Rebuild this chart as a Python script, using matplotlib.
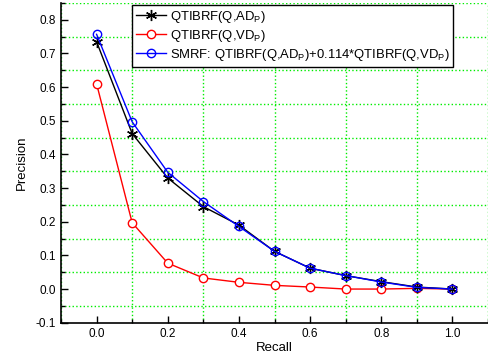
import matplotlib
matplotlib.use("Agg")
import matplotlib.pyplot as plt
from matplotlib.ticker import MultipleLocator

plt.rcParams['font.family'] = ['Liberation Sans', 'DejaVu Sans']
plt.rcParams['mathtext.fontset'] = 'custom'
plt.rcParams['mathtext.rm'] = 'Liberation Sans'
plt.rcParams['mathtext.it'] = 'Liberation Sans'

# recall levels
recall = [0.0, 0.1, 0.2, 0.3, 0.4, 0.5, 0.6, 0.7, 0.8, 0.9, 1.0]
# precision values per method
prec_ad = [0.735, 0.462, 0.330, 0.245, 0.190, 0.112, 0.062, 0.040, 0.022, 0.006, 0.0]
prec_vd = [0.610, 0.197, 0.077, 0.033, 0.020, 0.011, 0.006, 0.0, 0.0, 0.002, 0.0]
prec_smrf = [0.757, 0.497, 0.347, 0.260, 0.186, 0.112, 0.062, 0.040, 0.021, 0.005, 0.0]

labels = [r'QTIBRF(Q,AD$_\mathrm{P}$)',
          r'QTIBRF(Q,VD$_\mathrm{P}$)',
          r'SMRF: QTIBRF(Q,AD$_\mathrm{P}$)+0.114*QTIBRF(Q,VD$_\mathrm{P}$)']

fig = plt.figure(figsize=(4.88, 3.6), dpi=100)
ax = fig.add_axes([0.125, 0.1036, 0.875, 0.888])

l2, = ax.plot(recall, prec_vd, color='red', lw=1, marker='o', ms=6,
              mfc='white', mec='red', mew=1, zorder=3)
l1, = ax.plot(recall, prec_ad, color='black', lw=1, marker=(6, 2, 0), ms=8,
              mew=1, zorder=4)
l3, = ax.plot(recall, prec_smrf, color='blue', lw=1, marker='o', ms=6,
              mfc='none', mec='blue', mew=1, zorder=5)

ax.set_xlim(-0.1, 1.1)
ax.set_ylim(-0.1, 0.85)
ax.xaxis.set_major_locator(MultipleLocator(0.2))
ax.xaxis.set_minor_locator(MultipleLocator(0.1))
ax.yaxis.set_major_locator(MultipleLocator(0.1))
ax.yaxis.set_minor_locator(MultipleLocator(0.05))
ax.set_yticks([-0.1, 0.0, 0.1, 0.2, 0.3, 0.4, 0.5, 0.6, 0.7, 0.8])
ax.xaxis.set_major_formatter(plt.FormatStrFormatter('%.1f'))
ax.yaxis.set_major_formatter(plt.FormatStrFormatter('%.1f'))

ax.grid(which='minor', color='#00ee00', linestyle=':', linewidth=1)
ax.tick_params(which='major', direction='in', length=5, width=1, labelsize=8.5)
ax.tick_params(which='minor', direction='in', length=3, width=1)
ax.spines['top'].set_visible(False)
ax.spines['right'].set_visible(False)
for s in ['left', 'bottom']:
    ax.spines[s].set_linewidth(1.2)

ax.set_xlabel('Recall', fontsize=9.5, labelpad=2)
ax.set_ylabel('Precision', fontsize=9.5, labelpad=6)

leg = ax.legend([l1, l2, l3], labels, loc='upper left',
                bbox_to_anchor=(0.166, 0.994), fontsize=9.4, frameon=True,
                fancybox=False, edgecolor='black', framealpha=1,
                handlelength=2.3, borderpad=0.3, labelspacing=0.22,
                handletextpad=0.3, borderaxespad=0.0)
leg.get_frame().set_linewidth(1)

fig.savefig('out.png', dpi=100)
